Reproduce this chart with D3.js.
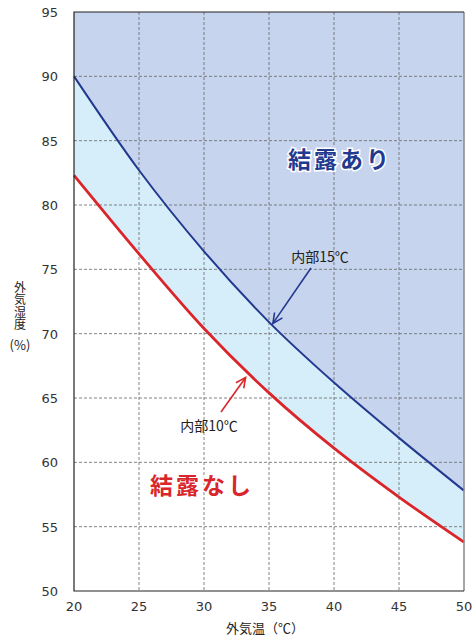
<!DOCTYPE html>
<html lang="ja">
<head>
<meta charset="UTF-8">
<title>結露グラフ</title>
<style>
  body, html { margin: 0; padding: 0; background: #fff; }
  svg text { font-family: "Noto Sans CJK JP", "Noto Sans", sans-serif; }
  svg text.num { font-family: "DejaVu Sans", sans-serif; }
</style>
</head>
<body>
<svg id="svg" width="474" height="637"></svg>
<script src="https://d3js.org/d3.v7.min.js"></script>
<script>
  // values
  const temps = [20, 25, 30, 35, 40, 45, 50]
  const hum15 = [90, 82.7, 76.4, 70.9, 66.2, 61.9, 57.8]  // 内部15℃
  const hum10 = [82.3, 76.2, 70.4, 65.4, 61.1, 57.3, 53.8] // 内部10℃
  const xTicks = [20, 25, 30, 35, 40, 45, 50]
  const yTicks = [50, 55, 60, 65, 70, 75, 80, 85, 90, 95]

  const svg = d3.select('#svg')
  const plotL = 74, plotR = 464, plotT = 12, plotB = 591

  const x = d3.scaleLinear().domain([20, 50]).range([plotL, plotR])
  const y = d3.scaleLinear().domain([50, 95]).range([plotB, plotT])

  const d15 = temps.map((t, i) => [t, hum15[i]])
  const d10 = temps.map((t, i) => [t, hum10[i]])

  // fills
  svg.append('rect')
    .attr('x', plotL).attr('y', plotT)
    .attr('width', plotR - plotL).attr('height', plotB - plotT)
    .attr('fill', '#c6d4ee')

  const area = (data, base) => d3.area()
    .x(d => x(d[0]))
    .y0(y(base))
    .y1(d => y(d[1]))
    .curve(d3.curveMonotoneX)(data)

  svg.append('path').attr('d', area(d15, 50)).attr('fill', '#d6eefa')
  svg.append('path').attr('d', area(d10, 50)).attr('fill', '#fff')

  // grid
  svg.append('g').selectAll('line')
    .data(xTicks.slice(1, -1)).join('line')
    .attr('x1', d => x(d)).attr('x2', d => x(d))
    .attr('y1', plotT).attr('y2', plotB)
    .attr('stroke', '#666').attr('stroke-width', 0.8)
    .attr('stroke-dasharray', '3,2')
  svg.append('g').selectAll('line')
    .data(yTicks.slice(1, -1)).join('line')
    .attr('x1', plotL).attr('x2', plotR)
    .attr('y1', d => y(d)).attr('y2', d => y(d))
    .attr('stroke', '#666').attr('stroke-width', 0.8)
    .attr('stroke-dasharray', '3,2')

  // curves
  const line = d3.line().x(d => x(d[0])).y(d => y(d[1])).curve(d3.curveMonotoneX)
  svg.append('path').attr('d', line(d15))
    .attr('fill', 'none').attr('stroke', '#22398f').attr('stroke-width', 2)
  svg.append('path').attr('d', line(d10))
    .attr('fill', 'none').attr('stroke', '#d9262b').attr('stroke-width', 2.8)

  // frame
  svg.append('line').attr('x1', plotR).attr('x2', plotR).attr('y1', plotT).attr('y2', plotB)
    .attr('stroke', '#888').attr('stroke-width', 1.5)
  svg.append('path')
    .attr('d', `M${plotR},${plotT}H${plotL}V${plotB}H${plotR}`)
    .attr('fill', 'none').attr('stroke', '#222').attr('stroke-width', 1.2)

  // axes labels
  svg.append('g').selectAll('text')
    .data(yTicks).join('text')
    .attr('class', 'num')
    .attr('x', 58).attr('y', d => y(d) + 5)
    .attr('text-anchor', 'end')
    .attr('font-size', 13).attr('fill', '#333')
    .text(d => d)
  svg.append('g').selectAll('text')
    .data(xTicks).join('text')
    .attr('class', 'num')
    .attr('x', d => x(d)).attr('y', 611)
    .attr('text-anchor', 'middle')
    .attr('font-size', 13).attr('fill', '#333')
    .text(d => d)

  svg.append('text').attr('x', 265).attr('y', 633)
    .attr('text-anchor', 'middle').attr('font-size', 13).attr('fill', '#222')
    .text('外気温（℃）')

  // vertical y title
  svg.append('text').attr('x', 20).attr('y', 281)
    .attr('font-size', 12).attr('fill', '#222')
    .style('writing-mode', 'vertical-rl')
    .attr('letter-spacing', 0.6)
    .text('外気湿度')
  svg.append('text').attr('x', 20).attr('y', 350)
    .attr('text-anchor', 'middle').attr('font-size', 13).attr('fill', '#222')
    .text('(%)')

  // annotations
  svg.append('text').attr('x', 340).attr('y', 168)
    .attr('text-anchor', 'middle').attr('font-size', 23).attr('font-weight', 'bold')
    .attr('fill', '#22398f').attr('stroke', '#fff').attr('stroke-width', 3)
    .attr('paint-order', 'stroke').attr('letter-spacing', 3)
    .text('結露あり')
  svg.append('text').attr('x', 202).attr('y', 494)
    .attr('text-anchor', 'middle').attr('font-size', 23).attr('font-weight', 'bold')
    .attr('fill', '#d9262b').attr('stroke', '#fff').attr('stroke-width', 3)
    .attr('paint-order', 'stroke').attr('letter-spacing', 3)
    .text('結露なし')

  svg.append('text').attr('x', 320).attr('y', 262)
    .attr('text-anchor', 'middle').attr('font-size', 14).attr('fill', '#222')
    .text('内部15℃')
  svg.append('text').attr('x', 209).attr('y', 431)
    .attr('text-anchor', 'middle').attr('font-size', 14).attr('fill', '#222')
    .text('内部10℃')

  function arrow(x1, y1, x2, y2, color) {
    const a = Math.atan2(y2 - y1, x2 - x1)
    const L = 11, w = 0.45
    svg.append('line').attr('x1', x1).attr('y1', y1).attr('x2', x2).attr('y2', y2)
      .attr('stroke', color).attr('stroke-width', 1.6)
    svg.append('path')
      .attr('d', `M${x2 - L * Math.cos(a - w)},${y2 - L * Math.sin(a - w)}L${x2},${y2}L${x2 - L * Math.cos(a + w)},${y2 - L * Math.sin(a + w)}`)
      .attr('fill', 'none').attr('stroke', color).attr('stroke-width', 1.6)
  }
  arrow(311, 268, x(35.3), y(70.8), '#22398f')
  arrow(221, 412, x(33.2), y(66.6), '#d9262b')
</script>
</body>
</html>
